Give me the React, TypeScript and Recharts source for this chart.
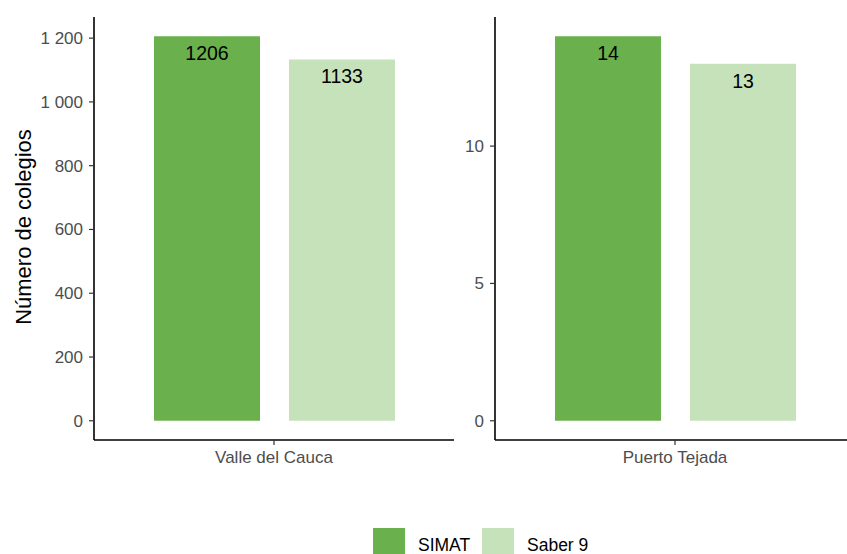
import React from 'react';
import { BarChart, Bar, XAxis, YAxis, LabelList } from 'recharts';

// values
const categories = ['Valle del Cauca', 'Puerto Tejada'];
const simat = [1206, 14];
const saber9 = [1133, 13];
const seriesNames = ['SIMAT', 'Saber 9'];
const leftTicks = [0, 200, 400, 600, 800, 1000, 1200];
const rightTicks = [0, 5, 10];

const COLORS = ['#6ab04c', '#c6e2bb'];
const FONT = '"Liberation Sans", Arial, sans-serif';

// space as thousands separator, like the original
const fmt = (v: number) => String(v).replace(/\B(?=(\d{3})+(?!\d))/g, '\u00a0');

interface PanelProps {
  idx: number;
  ticks: number[];
  left: number;
  width: number;
  yAxisWidth: number;
  marginRight: number;
}

const Panel: React.FC<PanelProps> = ({ idx, ticks, left, width, yAxisWidth, marginRight }) => {
  const row = { region: categories[idx], [seriesNames[0]]: simat[idx], [seriesNames[1]]: saber9[idx] };
  const max = Math.max(simat[idx], saber9[idx]);
  // ggplot-like 5% expansion
  const domain = [-max * 0.05, max * 1.05];

  return (
    <div style={{ position: 'absolute', left, top: 0 }}>
      <BarChart
        width={width}
        height={481}
        data={[row]}
        margin={{ top: 17, right: marginRight, bottom: 0, left: 0 }}
        barSize={106}
        barGap={29}
      >
        <XAxis
          dataKey="region"
          height={41}
          axisLine={{ stroke: '#000', strokeWidth: 1.6 }}
          tickLine={{ stroke: '#333', strokeWidth: 1.2 }}
          tickSize={5}
          tickMargin={6}
          tick={{ fill: '#4d4d4d', fontSize: 17, fontFamily: FONT }}
        />
        <YAxis
          type="number"
          domain={domain}
          ticks={ticks}
          width={yAxisWidth}
          tickFormatter={fmt}
          axisLine={{ stroke: '#000', strokeWidth: 1.6 }}
          tickLine={{ stroke: '#333', strokeWidth: 1.2 }}
          tickSize={5}
          tickMargin={6}
          tick={{ fill: '#4d4d4d', fontSize: 17, fontFamily: FONT }}
          allowDataOverflow
        />
        {seriesNames.map((name, i) => (
          <Bar key={name} dataKey={name} fill={COLORS[i]} isAnimationActive={false}>
            <LabelList
              dataKey={name}
              position="insideTop"
              offset={10}
              fill="#000"
              fontSize={19.5}
              fontFamily={FONT}
            />
          </Bar>
        ))}
      </BarChart>
    </div>
  );
};

export default function App() {
  return (
    <div
      style={{
        position: 'absolute',
        left: 0,
        top: 0,
        width: 847,
        height: 554,
        overflow: 'hidden',
        background: '#fff',
        fontFamily: FONT,
      }}
    >
      <Panel idx={0} ticks={leftTicks} left={0} width={465} yAxisWidth={94} marginRight={11} />
      <Panel idx={1} ticks={rightTicks} left={465} width={390} yAxisWidth={30} marginRight={0} />

      <div
        style={{
          position: 'absolute',
          left: 24,
          top: 227,
          transform: 'translate(-50%, -50%) rotate(-90deg)',
          whiteSpace: 'nowrap',
          fontSize: 22,
          color: '#000',
        }}
      >
        Número de colegios
      </div>

      <div style={{ position: 'absolute', left: 373, top: 527, display: 'flex', alignItems: 'flex-start' }}>
        {seriesNames.map((name, i) => (
          <div key={name} style={{ display: 'flex', alignItems: 'center' }}>
            <div style={{ width: 32, height: 32, background: COLORS[i] }} />
            <div style={{ fontSize: 17.5, color: '#000', marginLeft: 13, width: i === 0 ? 64 : 80, lineHeight: '32px', marginTop: 2 }}>
              {name}
            </div>
          </div>
        ))}
      </div>
    </div>
  );
}
